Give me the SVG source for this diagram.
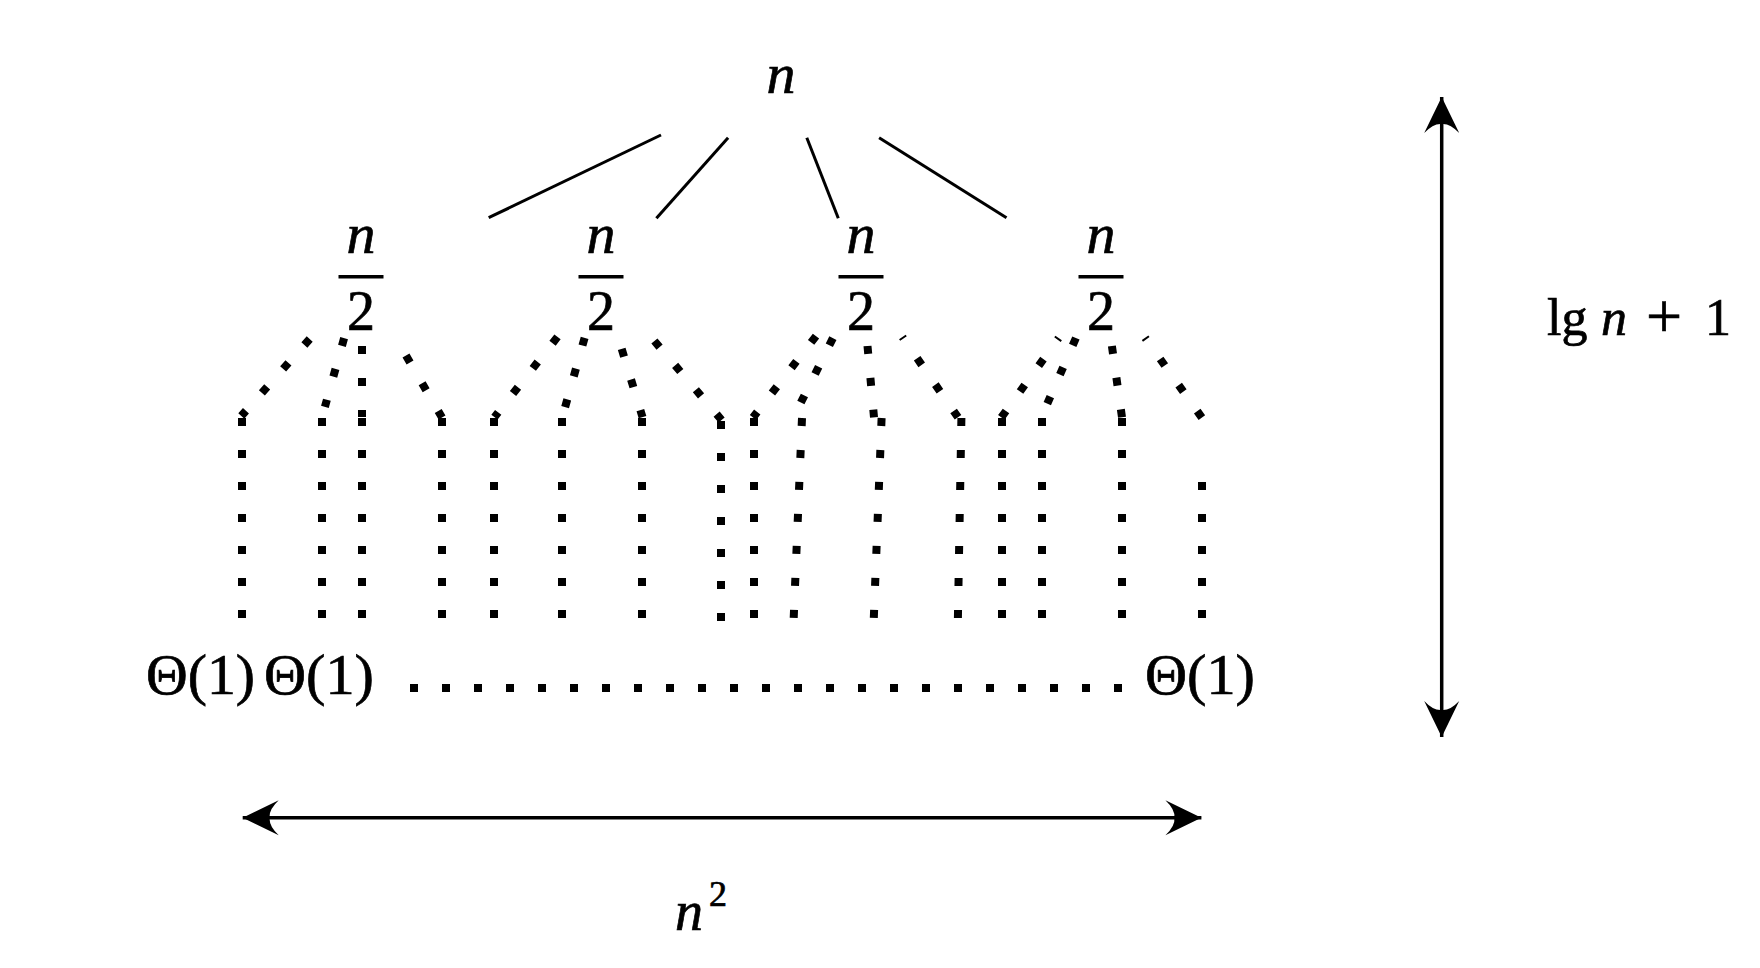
<svg xmlns="http://www.w3.org/2000/svg" width="1760" height="968" viewBox="0 0 1760 968">
<style>
.t{font-family:"Liberation Serif","DejaVu Serif",serif;fill:#000;stroke:#000;stroke-width:0.7}
.i{font-style:italic}
.ln{stroke:#000;stroke-width:3;fill:none}
.dot{stroke:#000;stroke-width:8;stroke-dasharray:8 24;fill:none}
.ar{stroke:#000;stroke-width:3.5;fill:none}
</style>
<defs>
<marker id="ah" viewBox="-37 -18 38 36" markerWidth="38" markerHeight="36" markerUnits="userSpaceOnUse" refX="0" refY="0" orient="auto-start-reverse">
<path d="M0,0 L-36,-17.5 Q-26,-8 -27,0 Q-26,8 -36,17.5 Z" fill="#000"/>
</marker>
</defs>
<rect width="1760" height="968" fill="#fff"/>

<g id="root">
<text class="t i" x="781" y="93" font-size="58" text-anchor="middle">n</text>
</g>

<g id="half1">
<text class="t i" x="361" y="253" font-size="58" text-anchor="middle">n</text>
<rect x="338.5" y="275" width="45" height="3.5"/>
<text class="t" x="361" y="330" font-size="56" text-anchor="middle">2</text>
</g>
<g id="half2">
<text class="t i" x="601" y="253" font-size="58" text-anchor="middle">n</text>
<rect x="578.5" y="275" width="45" height="3.5"/>
<text class="t" x="601" y="330" font-size="56" text-anchor="middle">2</text>
</g>
<g id="half3">
<text class="t i" x="861" y="253" font-size="58" text-anchor="middle">n</text>
<rect x="838.5" y="275" width="45" height="3.5"/>
<text class="t" x="861" y="330" font-size="56" text-anchor="middle">2</text>
</g>
<g id="half4">
<text class="t i" x="1101" y="253" font-size="58" text-anchor="middle">n</text>
<rect x="1078.5" y="275" width="45" height="3.5"/>
<text class="t" x="1101" y="330" font-size="56" text-anchor="middle">2</text>
</g>

<g id="leaf1"><text class="t" x="146" y="694" font-size="57" textLength="109" lengthAdjust="spacingAndGlyphs">Θ(1)</text></g>
<g id="leaf2"><text class="t" x="264" y="694" font-size="57" textLength="110" lengthAdjust="spacingAndGlyphs">Θ(1)</text></g>
<g id="leafN"><text class="t" x="1145" y="694" font-size="57" textLength="110" lengthAdjust="spacingAndGlyphs">Θ(1)</text></g>

<g id="width-label">
<text class="t i" x="675" y="930" font-size="56">n</text>
<text class="t" x="709" y="906" font-size="36">2</text>
</g>
<g id="height-label">
<text class="t" x="1547" y="335" font-size="52">lg</text>
<text class="t i" x="1601" y="335" font-size="52">n</text>
<text class="t" x="1646" y="338" font-size="64">+</text>
<text class="t" x="1705" y="335" font-size="52">1</text>
</g>

<g id="connectors">
<line class="ln" x1="661" y1="135" x2="488.7" y2="217.7"/>
<line class="ln" x1="728.1" y1="137.7" x2="656.4" y2="218.3"/>
<line class="ln" x1="806.8" y1="137.7" x2="838.3" y2="218.3"/>
<line class="ln" x1="879.1" y1="137.7" x2="1006.5" y2="217.7"/>

<line class="dot" x1="309.7" y1="339" x2="241.3" y2="416"/>
<line class="dot" x1="344.1" y1="338.1" x2="324.9" y2="406.9"/>
<line class="dot" x1="362" y1="346" x2="362" y2="417"/>
<line class="dot" x1="406" y1="355.6" x2="442" y2="417.4"/>
<line class="dot" x1="557.5" y1="336.9" x2="494.5" y2="417.1"/>
<line class="dot" x1="584.6" y1="337.8" x2="565.1" y2="407.2"/>
<line class="dot" x1="621.7" y1="348.9" x2="642.5" y2="417.1"/>
<line class="dot" x1="654.4" y1="341" x2="721.6" y2="420"/>
<line class="dot" x1="816" y1="336.1" x2="753" y2="417.5"/>
<line class="dot" x1="832.9" y1="338.1" x2="800.7" y2="402.9"/>
<line class="dot" x1="867.5" y1="346" x2="874" y2="417.3"/>
<line class="dot" x1="902.35" y1="336.95" x2="958" y2="417.3" stroke-dashoffset="6"/>
<line class="dot" x1="1058.65" y1="337.97" x2="1001.3" y2="417.5" stroke-dashoffset="6"/>
<line class="dot" x1="1075.9" y1="338" x2="1047.3" y2="403.7"/>
<line class="dot" x1="1111.9" y1="346" x2="1122" y2="417.3"/>
<line class="dot" x1="1145.1" y1="337.8" x2="1202.3" y2="418.3" stroke-dashoffset="6"/>

<line class="dot" x1="242" y1="418" x2="242" y2="618"/>
<line class="dot" x1="322" y1="418" x2="322" y2="618"/>
<line class="dot" x1="362" y1="418" x2="362" y2="618"/>
<line class="dot" x1="442" y1="418" x2="442" y2="618"/>
<line class="dot" x1="494" y1="418" x2="494" y2="618"/>
<line class="dot" x1="562" y1="418" x2="562" y2="618"/>
<line class="dot" x1="642" y1="418" x2="642" y2="618"/>
<line class="dot" x1="721" y1="421" x2="721" y2="621"/>
<line class="dot" x1="754" y1="418" x2="754" y2="618"/>
<line class="dot" x1="802" y1="418" x2="793.7" y2="618"/>
<line class="dot" x1="881.6" y1="418" x2="873.8" y2="618"/>
<line class="dot" x1="961.4" y1="418" x2="957.9" y2="618"/>
<line class="dot" x1="1002" y1="418" x2="1002" y2="618"/>
<line class="dot" x1="1042" y1="418" x2="1042" y2="618"/>
<line class="dot" x1="1122" y1="418" x2="1122" y2="618"/>
<line class="dot" x1="1202" y1="482" x2="1202" y2="618"/>

<line class="dot" x1="410" y1="688" x2="1122" y2="688"/>

<line class="ar" x1="242.7" y1="817.7" x2="1201.4" y2="817.7" marker-start="url(#ah)" marker-end="url(#ah)"/>
<line class="ar" x1="1441.7" y1="97" x2="1441.7" y2="737" marker-start="url(#ah)" marker-end="url(#ah)"/>
</g>
</svg>
